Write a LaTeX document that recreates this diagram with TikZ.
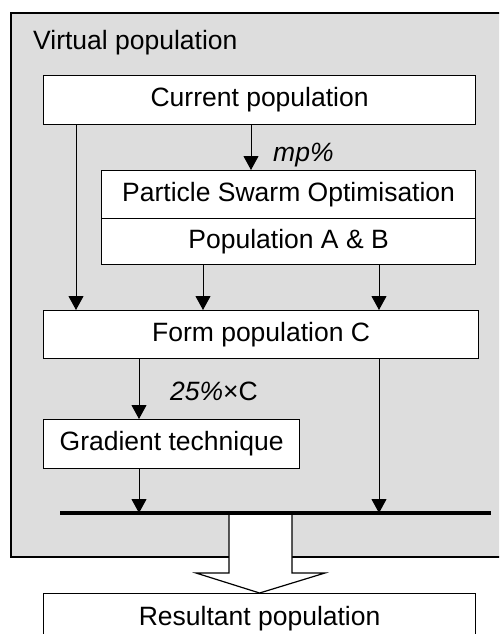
\documentclass[tikz,border=0pt]{standalone}
\usepackage{fontspec}
\setmainfont{Liberation Sans}
\usetikzlibrary{arrows.meta}

\definecolor{panelgray}{RGB}{221,221,221}

\begin{document}
\begin{tikzpicture}[x=1pt,y=-1pt, line join=miter, >={Triangle[length=14pt,width=15pt]},
    every node/.style={font=\fontsize{26.5}{30}\selectfont},
    box/.style={draw, line width=1.2pt, fill=white, inner sep=0pt, anchor=north west},
    flow/.style={->, line width=1pt},
    label/.style={anchor=base west, inner sep=0pt}]
    \useasboundingbox (0,0) rectangle (499,634);
    \clip (0,0) rectangle (499,634);

    % shaded panel
    \draw[fill=panelgray, line width=1.2pt] (11,13) rectangle (530,557);
    \node[label] (virt) at (33,49) {Virtual population};

    % blocks
    \node[box, minimum width=432pt, minimum height=49pt] (cur) at (43,75) {Current population};
    \node[box, minimum width=374pt, minimum height=48pt] (pso) at (101,170) {Particle Swarm Optimisation};
    \node[box, minimum width=374pt, minimum height=46pt] (popab) at (101,218) {Population A \& B};
    \node[box, minimum width=435pt, minimum height=48pt] (form) at (43,310) {Form population C};
    \node[box, minimum width=256pt, minimum height=49pt] (grad) at (43,419) {Gradient technique};
    \node[box, minimum width=432pt, minimum height=50pt] (res) at (43,593) {Resultant population};

    % columns of the connectors and the collecting bar
    \coordinate (colA) at (76,0);
    \coordinate (colB) at (139,0);
    \coordinate (colC) at (203,0);
    \coordinate (colD) at (251,0);
    \coordinate (colE) at (379,0);
    \coordinate (barL) at (60,513);
    \coordinate (barR) at (491,513);

    % hollow output arrow
    \draw[fill=white, line width=1.2pt] (229,513) -- (229,573) -- (196,573) -- (res.north)
        -- (325,573) -- (292,573) -- (292,513);
    \draw[line width=3.3pt] (barL) -- (barR);

    \draw[flow] (cur.south -| colA) -- (form.north -| colA);
    \draw[flow] (cur.south -| colD) -- (pso.north -| colD);
    \node[label] (mp) at (273,161) {\textit{mp\%}};
    \draw[flow] (popab.south -| colC) -- (form.north -| colC);
    \draw[flow] (popab.south -| colE) -- (form.north -| colE);
    \draw[flow] (form.south -| colB) -- (grad.north -| colB);
    \node[label] (quarter) at (170,400) {\textit{25\%}×C};
    \draw[flow] (grad.south -| colB) -- (barL -| colB);
    \draw[flow] (form.south -| colE) -- (barL -| colE);
\end{tikzpicture}
\end{document}
